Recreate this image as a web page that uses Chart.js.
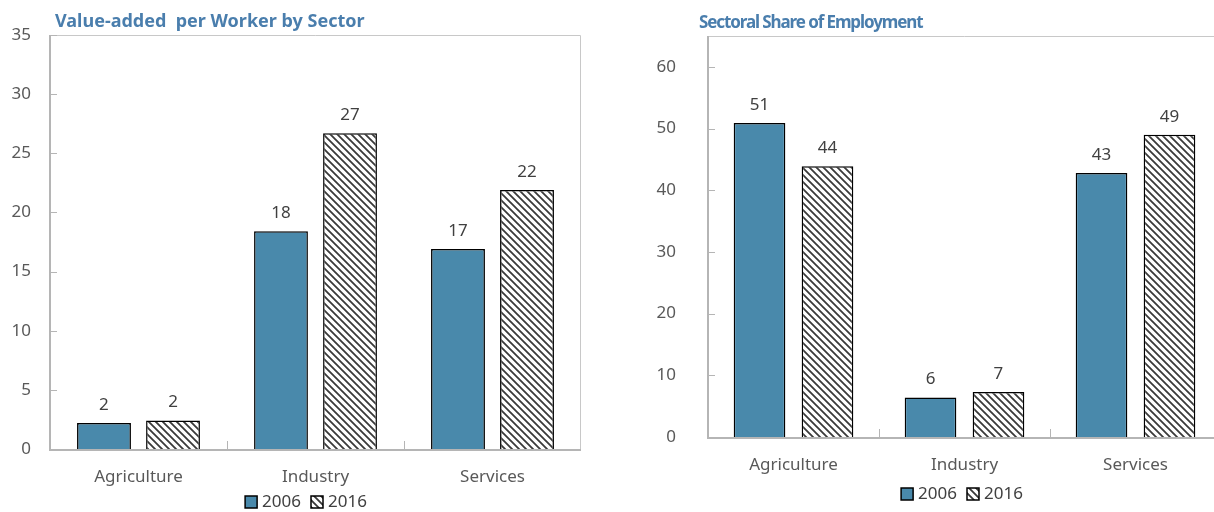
<!DOCTYPE html>
<html>
<head>
<meta charset="utf-8">
<script src="https://cdn.jsdelivr.net/npm/chart.js@4.4.1/dist/chart.umd.min.js"></script>
<style>
  body { margin: 0; width: 1214px; height: 512px; overflow: hidden; background: #fff; position: relative; }
  .title { position: absolute; font-family: "Noto Sans", sans-serif; font-weight: bold; color: #4a7ead; white-space: pre; z-index: 2; }
  .panel { position: absolute; top: 0; }
</style>
</head>
<body>
<div class="title" style="left:55px;top:8px;font-size:18px;line-height:24px">Value-added  per Worker by Sector</div>
<div class="title" style="left:699px;top:10px;font-size:17px;line-height:24px;letter-spacing:-1.1px">Sectoral Share of Employment</div>
<div class="panel" style="left:0"><canvas id="valueChart" width="607" height="512"></canvas></div>
<div class="panel" style="left:607px"><canvas id="shareChart" width="620" height="512"></canvas></div>

<script>
// ===============================
// DATA
// ===============================

const sectors = ['Agriculture', 'Industry', 'Services'];
const years = ['2006', '2016'];

const valueAdded2006 = [2.2, 18.4, 16.9];
const valueAdded2016 = [2.4, 26.7, 21.9];
const valueTicks = [0, 5, 10, 15, 20, 25, 30, 35];

const employment2006 = [50.9, 6.4, 42.8];
const employment2016 = [43.9, 7.3, 49.0];
const shareTicks = [0, 10, 20, 30, 40, 50, 60];


// ===============================
// STYLE
// ===============================

const FONT = '"Noto Sans", sans-serif';
const BLUE = '#4989ab';
const AXIS = '#b5b5b5';

// diagonal hatch for the 2016 bars
function makeHatch() {
    const c = document.createElement('canvas');
    c.width = 7;
    c.height = 7;
    const g = c.getContext('2d');
    g.fillStyle = '#fff';
    g.fillRect(0, 0, 7, 7);
    g.strokeStyle = '#3a3a3a';
    g.lineWidth = 1.8;
    g.beginPath();
    g.moveTo(-1, -1); g.lineTo(8, 8);
    g.moveTo(-8, -1); g.lineTo(1, 8);
    g.moveTo(6, -1); g.lineTo(15, 8);
    g.stroke();
    return g.createPattern(c, 'repeat');
}

const hatch = makeHatch();


// ===============================
// FRAME, TICKS, LABELS, LEGEND
// ===============================

const decorations = {
    id: 'decorations',

    afterDatasetsDraw(chart, args, opts) {
        const {ctx, chartArea: a, scales: {x, y}} = chart;
        ctx.save();

        // light box round the plot
        ctx.strokeStyle = '#c8c8c8';
        ctx.lineWidth = 1;
        ctx.beginPath();
        ctx.moveTo(a.left, a.top + 0.5);
        ctx.lineTo(a.right - 0.5, a.top + 0.5);
        ctx.lineTo(a.right - 0.5, a.bottom);
        ctx.stroke();

        // axes
        ctx.strokeStyle = AXIS;
        ctx.lineWidth = 2;
        ctx.beginPath();
        ctx.moveTo(a.left, a.top);
        ctx.lineTo(a.left, a.bottom + 1);
        ctx.lineTo(a.right, a.bottom + 1);
        ctx.stroke();

        // inward tick marks
        ctx.lineWidth = 1;
        ctx.beginPath();
        y.ticks.forEach(t => {
            const py = Math.round(y.getPixelForValue(t.value)) + 0.5;
            ctx.moveTo(a.left, py);
            ctx.lineTo(a.left + 7, py);
        });
        const step = (a.right - a.left) / sectors.length;
        for (let i = 1; i < sectors.length; i++) {
            const px = Math.round(a.left + i * step) + 0.5;
            ctx.moveTo(px, a.bottom);
            ctx.lineTo(px, a.bottom - 8);
        }
        ctx.stroke();

        // value labels
        ctx.fillStyle = '#404040';
        ctx.font = '17px ' + FONT;
        ctx.textAlign = 'center';
        ctx.textBaseline = 'middle';
        chart.data.datasets.forEach((ds, i) => {
            chart.getDatasetMeta(i).data.forEach((bar, j) => {
                ctx.fillText(String(Math.round(ds.data[j])), bar.x, bar.y - 18);
            });
        });

        // legend
        const box = 12;
        const gap = 5;
        const itemGap = 10;
        const widths = chart.data.datasets.map(ds => ctx.measureText(ds.label).width);
        const total = widths.reduce((s, w) => s + box + gap + w, 0) + itemGap * (widths.length - 1);
        let lx = opts.legendX - total / 2;
        ctx.textAlign = 'left';
        chart.data.datasets.forEach((ds, i) => {
            ctx.fillStyle = ds.backgroundColor;
            ctx.fillRect(lx, opts.legendY - box / 2, box, box);
            ctx.strokeStyle = '#000';
            ctx.lineWidth = 1.5;
            ctx.strokeRect(lx, opts.legendY - box / 2, box, box);
            ctx.fillStyle = '#404040';
            ctx.fillText(ds.label, lx + box + gap, opts.legendY);
            lx += box + gap + widths[i] + itemGap;
        });

        ctx.restore();
    }
};


// ===============================
// CHART SETUP
// ===============================

function buildChart(id, first, second, ticks, cfg) {

    return new Chart(document.getElementById(id), {

        type: 'bar',

        data: {
            labels: sectors,

            datasets: [{
                label: years[0],
                data: first,
                backgroundColor: BLUE,
                borderColor: '#000',
                borderWidth: 1.5,
                categoryPercentage: cfg.catPct,
                barPercentage: cfg.barPct
            }, {
                label: years[1],
                data: second,
                backgroundColor: hatch,
                borderColor: '#000',
                borderWidth: 1.5,
                categoryPercentage: cfg.catPct,
                barPercentage: cfg.barPct
            }]
        },

        options: {
            responsive: false,
            animation: false,
            events: [],
            layout: {
                padding: {top: cfg.top, right: cfg.right, bottom: 0, left: 0}
            },
            plugins: {
                legend: {display: false},
                tooltip: {enabled: false},
                decorations: {legendX: cfg.legendX, legendY: cfg.legendY}
            },
            scales: {
                x: {
                    grid: {display: false, drawTicks: false},
                    border: {display: false},
                    ticks: {padding: cfg.xPad, color: '#595959', font: {family: FONT, size: 17}},
                    afterFit: s => { s.height = cfg.xHeight; }
                },
                y: {
                    min: 0,
                    max: cfg.max,
                    grid: {display: false, drawTicks: false},
                    border: {display: false},
                    ticks: {padding: cfg.yPad, color: '#595959', font: {family: FONT, size: 17}},
                    afterBuildTicks: s => { s.ticks = ticks.map(v => ({value: v})); },
                    // fixed axis width; the plot top comes from layout padding only
                    afterFit: s => {
                        s.width = cfg.yWidth;
                        s.paddingTop = 0;
                        s.paddingBottom = 0;
                    }
                }
            }
        },

        plugins: [decorations]
    });
}

buildChart('valueChart', valueAdded2006, valueAdded2016, valueTicks, {
    max: 35, top: 35, right: 26, yWidth: 50, xHeight: 63,
    yPad: 19, xPad: 18, catPct: 0.78, barPct: 0.78,
    legendX: 306, legendY: 502
});

buildChart('shareChart', employment2006, employment2016, shareTicks, {
    max: 65, top: 36, right: 6, yWidth: 101, xHeight: 75,
    yPad: 32, xPad: 18, catPct: 0.795, barPct: 0.76,
    legendX: 355, legendY: 494
});
</script>
</body>
</html>
